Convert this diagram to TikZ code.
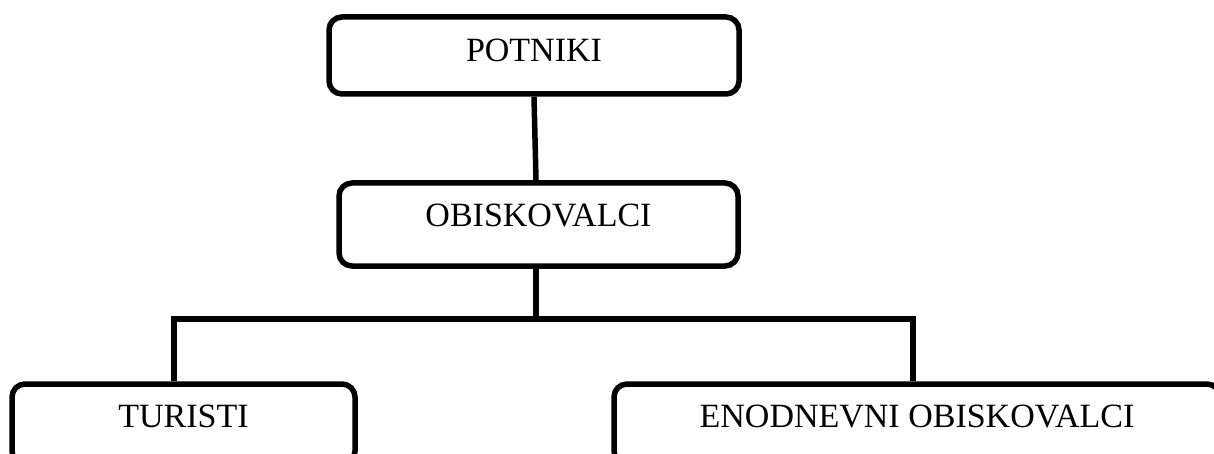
\documentclass[tikz,border=0pt]{standalone}
\usepackage{fontspec}
\setmainfont{Liberation Serif}
\begin{document}
\begin{tikzpicture}[x=0.5pt,y=-0.5pt,
  box/.style={draw,line width=2.75pt,rounded corners=6.5pt,text height=12pt,font=\fontsize{17}{20}\selectfont},
  link/.style={line width=2.75pt}]
\path[use as bounding box,clip] (0,0) rectangle (1214,454);

\node[box,minimum width=205pt,minimum height=38.5pt,text depth=5.8pt] (potniki) at (534,55.5) {POTNIKI};
\node[box,minimum width=199.5pt,minimum height=41.5pt,text depth=10.3pt] (obiskovalci) at (538.5,224.5) {OBISKOVALCI};
\node[box,minimum width=171.5pt,minimum height=40pt,text depth=8.3pt] (turisti) at (183.5,424) {TURISTI};
\node[box,minimum width=303pt,minimum height=40pt,text depth=8.3pt] (enodnevni) at (917,424) {ENODNEVNI OBISKOVALCI};

\coordinate (split) at (536,319);
\coordinate (barL) at (174,319);
\coordinate (barR) at (913,319);

\draw[link] (potniki.south) -- ([xshift=-1.25pt]obiskovalci.north);
\draw[link] ([xshift=-1.25pt]obiskovalci.south) -- (split);
\draw[link] (turisti.north -| barL) -- (barL) -- (barR) -- (enodnevni.north -| barR);

\end{tikzpicture}
\end{document}
